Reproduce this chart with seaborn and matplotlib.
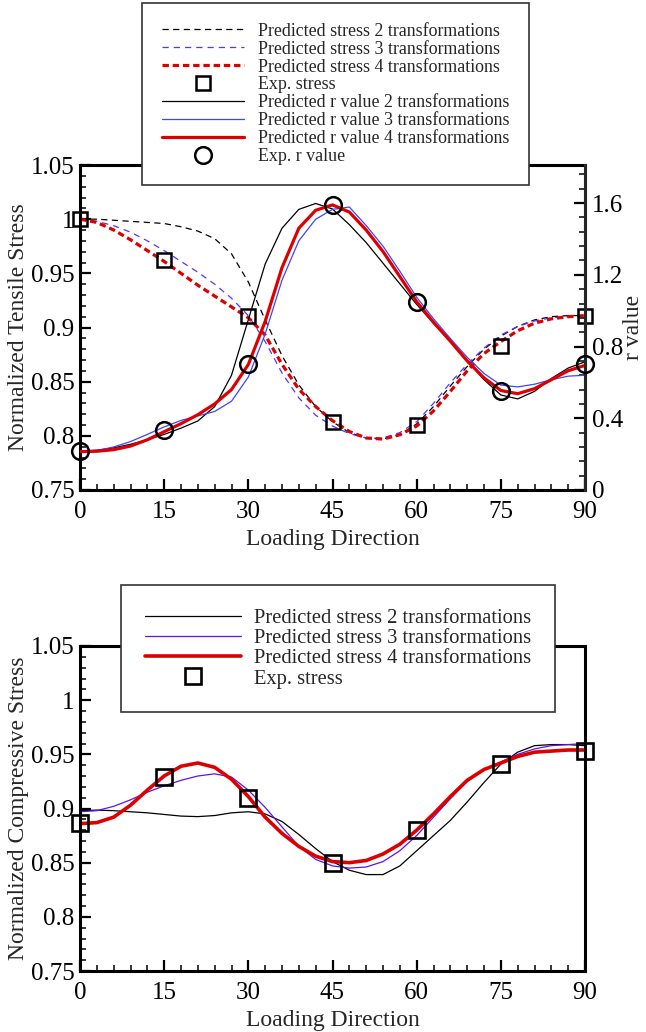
import matplotlib
matplotlib.use("Agg")
import matplotlib.pyplot as plt
import seaborn as sns
from matplotlib.ticker import MultipleLocator, FixedLocator, FixedFormatter

# ---------------- data ----------------
angles = list(range(0, 91, 3))
exp_angles = [0, 15, 30, 45, 60, 75, 90]

# tensile test
exp_tensile_stress = [1.000, 0.962, 0.911, 0.813, 0.810, 0.883, 0.911]
exp_r_value = [0.217, 0.334, 0.700, 1.592, 1.050, 0.550, 0.700]

pred_stress_2t = [1.000, 1.000, 0.999, 0.998, 0.997, 0.996, 0.993, 0.989, 0.982, 0.968,
                  0.942, 0.907, 0.874, 0.847, 0.827, 0.813, 0.803, 0.798, 0.797, 0.801,
                  0.811, 0.827, 0.846, 0.864, 0.880, 0.892, 0.901, 0.907, 0.910, 0.911, 0.911]
pred_stress_3t = [1.000, 0.998, 0.994, 0.988, 0.980, 0.971, 0.961, 0.951, 0.940, 0.927,
                  0.911, 0.887, 0.858, 0.835, 0.819, 0.809, 0.802, 0.798, 0.798, 0.803,
                  0.813, 0.830, 0.849, 0.866, 0.881, 0.893, 0.901, 0.906, 0.909, 0.910, 0.911]
pred_stress_4t = [1.000, 0.997, 0.990, 0.981, 0.971, 0.961, 0.950, 0.939, 0.929, 0.919,
                  0.909, 0.893, 0.866, 0.843, 0.827, 0.814, 0.804, 0.798, 0.797, 0.801,
                  0.809, 0.823, 0.841, 0.860, 0.876, 0.887, 0.897, 0.904, 0.908, 0.910, 0.911]

pred_r_2t = [0.217, 0.222, 0.235, 0.255, 0.280, 0.310, 0.345, 0.385, 0.465, 0.640,
             0.950, 1.260, 1.460, 1.565, 1.598, 1.567, 1.480, 1.380, 1.265, 1.150,
             1.035, 0.930, 0.830, 0.720, 0.615, 0.530, 0.508, 0.550, 0.622, 0.680, 0.715]
pred_r_3t = [0.212, 0.220, 0.240, 0.270, 0.310, 0.352, 0.388, 0.413, 0.438, 0.495,
             0.630, 0.870, 1.170, 1.390, 1.510, 1.565, 1.578, 1.475, 1.360, 1.220,
             1.075, 0.955, 0.845, 0.740, 0.650, 0.585, 0.575, 0.590, 0.615, 0.635, 0.640]
pred_r_4t = [0.214, 0.216, 0.225, 0.245, 0.280, 0.325, 0.370, 0.420, 0.480, 0.560,
             0.700, 0.940, 1.240, 1.460, 1.560, 1.590, 1.550, 1.450, 1.330, 1.190,
             1.050, 0.935, 0.830, 0.720, 0.625, 0.555, 0.537, 0.565, 0.615, 0.665, 0.695]

# compression test
exp_comp_stress = [0.887, 0.929, 0.910, 0.850, 0.880, 0.941, 0.953]
comp_2t = [0.898, 0.8985, 0.898, 0.897, 0.896, 0.8945, 0.8930, 0.8925, 0.8935, 0.896,
           0.897, 0.895, 0.888, 0.876, 0.863, 0.851, 0.843, 0.839, 0.839, 0.847,
           0.861, 0.875, 0.889, 0.906, 0.924, 0.941, 0.952, 0.958, 0.959, 0.959, 0.958]
comp_3t = [0.897, 0.898, 0.902, 0.908, 0.915, 0.921, 0.926, 0.930, 0.932, 0.929,
           0.917, 0.901, 0.883, 0.865, 0.853, 0.847, 0.845, 0.846, 0.851, 0.861,
           0.875, 0.892, 0.909, 0.925, 0.936, 0.943, 0.950, 0.955, 0.958, 0.959, 0.960]
comp_4t = [0.886, 0.887, 0.892, 0.903, 0.917, 0.930, 0.939, 0.942, 0.938, 0.927,
           0.911, 0.892, 0.877, 0.865, 0.856, 0.851, 0.850, 0.852, 0.858, 0.867,
           0.880, 0.895, 0.911, 0.926, 0.936, 0.942, 0.948, 0.952, 0.953, 0.954, 0.954]

x_ticks = [0, 15, 30, 45, 60, 75, 90]
x_tick_labels = ["0", "15", "30", "45", "60", "75", "90"]
stress_ticks = [0.75, 0.80, 0.85, 0.90, 0.95, 1.00, 1.05]
stress_tick_labels = ["0.75", "0.8", "0.85", "0.9", "0.95", "1", "1.05"]
r_ticks = [0.0, 0.4, 0.8, 1.2, 1.6]
r_tick_labels = ["0", "0.4", "0.8", "1.2", "1.6"]

# ---------------- style ----------------
sns.set_style("ticks")
plt.rcParams["font.family"] = ["Liberation Serif", "DejaVu Serif"]

BLACK = "#000000"
BLUE_D = "#5a32ff"
BLUE_S = "#3a46ff"
BLUE_C = "#5a14f0"
RED = "#dd0000"

W, H = 646, 1032
fig = plt.figure(figsize=(W / 100, H / 100), dpi=100)
ax1 = fig.add_axes([80 / W, 1 - 490 / H, 505 / W, 325 / H])
ax2 = ax1.twinx()
ax3 = fig.add_axes([80 / W, 1 - 971 / H, 505 / W, 325 / H])

SPW = 2.2
TICK_FS = 18
LABEL_FS = 17


def style_axis(ax):
    for s in ax.spines.values():
        s.set_linewidth(SPW)
        s.set_color("black")
    ax.set_xlim(0, 90)
    ax.xaxis.set_major_locator(FixedLocator(x_ticks))
    ax.xaxis.set_major_formatter(FixedFormatter(x_tick_labels))
    ax.xaxis.set_minor_locator(MultipleLocator(3))
    ax.set_ylim(0.75, 1.05)
    ax.yaxis.set_major_locator(FixedLocator(stress_ticks))
    ax.yaxis.set_major_formatter(FixedFormatter(stress_tick_labels))
    ax.yaxis.set_minor_locator(MultipleLocator(0.01))
    ax.tick_params(which="both", direction="in", top=False, right=False,
                   left=True, bottom=True, colors="black")
    ax.tick_params(which="major", length=8, width=1.6, labelsize=TICK_FS)
    ax.tick_params(which="minor", length=4.5, width=1.1)
    ax.tick_params(axis="x", which="major", pad=8)
    ax.tick_params(axis="y", which="major", pad=4)
    ax.set_xlabel("Loading Direction", fontsize=LABEL_FS, labelpad=4)


style_axis(ax1)
style_axis(ax3)

# ---------------- top plot ----------------
lw_thin = 0.9
lw_thick = 2.3

sns.lineplot(x=angles, y=pred_stress_2t, ax=ax1, color=BLACK, lw=lw_thin,
             linestyle=(0, (5, 3.5)), label="Predicted stress 2 transformations", legend=False)
sns.lineplot(x=angles, y=pred_stress_3t, ax=ax1, color=BLUE_D, lw=lw_thin,
             linestyle=(0, (5, 4)), label="Predicted stress 3 transformations", legend=False)
sns.lineplot(x=angles, y=pred_stress_4t, ax=ax1, color=RED, lw=lw_thick,
             linestyle=(0, (2.0, 1.2)), label="Predicted stress 4 transformations", legend=False)
sns.lineplot(x=exp_angles, y=exp_tensile_stress, ax=ax1, linestyle="", marker="s",
             markersize=10, markerfacecolor="none", markeredgecolor="black",
             markeredgewidth=1.8, color="black", label="Exp. stress", legend=False,
             clip_on=False, zorder=5)

sns.lineplot(x=angles, y=pred_r_2t, ax=ax2, color=BLACK, lw=lw_thin,
             label="Predicted r value 2 transformations", legend=False)
sns.lineplot(x=angles, y=pred_r_3t, ax=ax2, color=BLUE_S, lw=lw_thin,
             label="Predicted r value 3 transformations", legend=False)
sns.lineplot(x=angles, y=pred_r_4t, ax=ax2, color=RED, lw=lw_thick,
             label="Predicted r value 4 transformations", legend=False)
sns.lineplot(x=exp_angles, y=exp_r_value, ax=ax2, linestyle="", marker="o",
             markersize=12, markerfacecolor="none", markeredgecolor="black",
             markeredgewidth=1.8, color="black", label="Exp. r value", legend=False,
             clip_on=False, zorder=5)

ax1.set_ylabel("Normalized Tensile Stress", fontsize=LABEL_FS, labelpad=1)

ax2.set_ylim(0, 1.8125)
ax2.yaxis.set_major_locator(FixedLocator(r_ticks))
ax2.yaxis.set_major_formatter(FixedFormatter(r_tick_labels))
ax2.yaxis.set_minor_locator(MultipleLocator(0.08))
ax2.tick_params(which="both", direction="in", right=True, left=False,
                top=False, bottom=False, colors="black")
ax2.tick_params(which="major", length=8, width=1.6, labelsize=TICK_FS, pad=5)
ax2.tick_params(which="minor", length=4.5, width=1.1)
for k, s in ax2.spines.items():
    s.set_visible(k == "right")
    s.set_linewidth(SPW)
ax2.set_ylabel("r value", fontsize=LABEL_FS, labelpad=0)

h1, l1 = ax1.get_legend_handles_labels()
h2, l2 = ax2.get_legend_handles_labels()
leg1 = fig.legend(h1 + h2, l1 + l2, loc="upper left",
                  bbox_to_anchor=(142 / W, 1 - 3 / H), borderaxespad=0,
                  fontsize=12.9, frameon=True, fancybox=False, framealpha=1,
                  edgecolor="#333333", handlelength=4.6, handletextpad=0.75,
                  labelspacing=0.05, borderpad=1.1)
leg1.get_frame().set_linewidth(1.2)

# ---------------- bottom plot ----------------
sns.lineplot(x=angles, y=comp_2t, ax=ax3, color=BLACK, lw=lw_thin,
             label="Predicted stress 2 transformations", legend=False)
sns.lineplot(x=angles, y=comp_3t, ax=ax3, color=BLUE_C, lw=lw_thin,
             label="Predicted stress 3 transformations", legend=False)
sns.lineplot(x=angles, y=comp_4t, ax=ax3, color=RED, lw=lw_thick + 0.3,
             label="Predicted stress 4 transformations", legend=False)
sns.lineplot(x=exp_angles, y=exp_comp_stress, ax=ax3, linestyle="", marker="s",
             markersize=11, markerfacecolor="none", markeredgecolor="black",
             markeredgewidth=1.9, color="black", label="Exp. stress", legend=False,
             clip_on=False, zorder=5)
ax3.set_ylabel("Normalized Compressive Stress", fontsize=LABEL_FS, labelpad=1)

h3, l3 = ax3.get_legend_handles_labels()
leg2 = fig.legend(h3, l3, loc="upper left",
                  bbox_to_anchor=(121 / W, 1 - 585 / H), borderaxespad=0,
                  fontsize=14.8, frameon=True, fancybox=False, framealpha=1,
                  edgecolor="#333333", handlelength=4.7, handletextpad=0.62,
                  labelspacing=0.04, borderpad=1.15)
leg2.get_frame().set_linewidth(1.2)

fig.savefig("out.png", dpi=100)
